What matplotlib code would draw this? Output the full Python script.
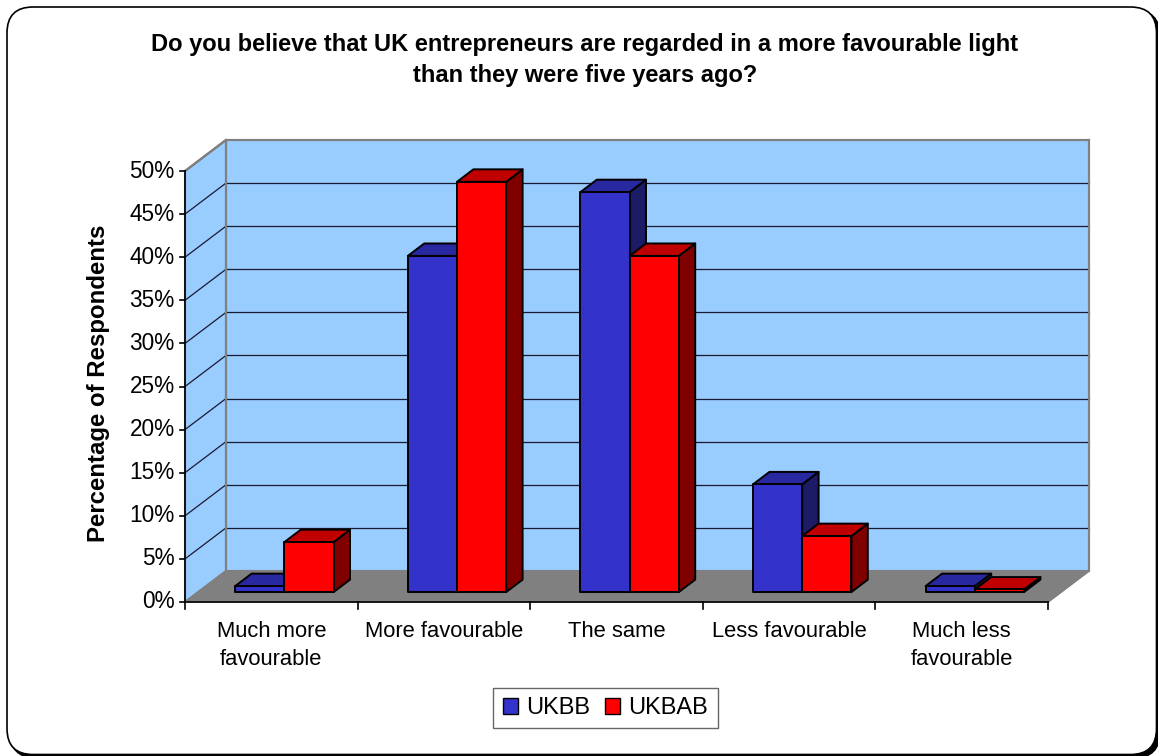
import matplotlib
matplotlib.use("Agg")
import matplotlib.pyplot as plt
from matplotlib.patches import Polygon, FancyBboxPatch, Patch
from matplotlib.transforms import IdentityTransform

plt.rcParams['font.family'] = ['Liberation Sans', 'DejaVu Sans']

# Data.
categories = ["Much more\nfavourable", "More favourable", "The same",
              "Less favourable", "Much less\nfavourable"]
ukbb = [0.7, 39.0, 46.4, 12.5, 0.7]
ukbab = [5.8, 47.6, 39.0, 6.5, 0.3]
yticks = [0, 5, 10, 15, 20, 25, 30, 35, 40, 45, 50]
title = ("Do you believe that UK entrepreneurs are regarded in a more favourable light\n"
         "than they were five years ago?")

# 3D look (oblique projection) in data units.
DX, DY = 0.2375, 3.6      # full depth offset
D0, D1 = 0.32, 0.72       # bar depth range
BW = 0.285                # bar width
YMAX = 50


def proj(x, y, d):
    return (x + d * DX, y + d * DY)


fig = plt.figure(figsize=(11.58, 7.56), dpi=100)
ax = fig.add_axes([0, 0, 1, 1])
ax.set_zorder(3)
ax.set_xlim(-0.5 - 185 / 172.6, -0.5 + (1158 - 185) / 172.6)
ax.set_ylim(-(756 - 602) / 8.62, 602 / 8.62)
ax.axis('off')

# Outer frame with shadow (shadow mostly falls outside the picture).
shadow = FancyBboxPatch((10, -2), 1150, 748, boxstyle="round,pad=0,rounding_size=26",
                        transform=IdentityTransform(), fc='black', ec='black', zorder=0)
frame = FancyBboxPatch((7, 1.5), 1149.5, 747.5, boxstyle="round,pad=0,rounding_size=26",
                       transform=IdentityTransform(), fc='white', ec='black', lw=1.2, zorder=1)
fig.patches.extend([shadow, frame])

n = len(categories)
xl, xr = -0.5, n - 0.5
wall = '#99CCFF'
edge = '#808080'

# Back wall, side wall, floor.
ax.add_patch(Polygon([proj(xl, 0, 1), proj(xr, 0, 1), proj(xr, YMAX, 1), proj(xl, YMAX, 1)],
                     closed=True, fc=wall, ec=edge, lw=1.5, zorder=2))
ax.add_patch(Polygon([proj(xl, 0, 0), proj(xl, 0, 1), proj(xl, YMAX, 1), proj(xl, YMAX, 0)],
                     closed=True, fc=wall, ec=edge, lw=1.5, zorder=2))
ax.add_patch(Polygon([proj(xl, 0, 0), proj(xr, 0, 0), proj(xr, 0, 1), proj(xl, 0, 1)],
                     closed=True, fc='#808080', ec='#808080', lw=1, zorder=2))

# Gridlines on the walls.
for v in yticks[1:-1]:
    p = [proj(xl, v, 1), proj(xr, v, 1)]
    ax.plot([p[0][0], p[1][0]], [p[0][1], p[1][1]], color='#1a1a2e', lw=0.9, zorder=3)
for v in yticks[1:]:
    p = [proj(xl, v, 0), proj(xl, v, 1)]
    ax.plot([p[0][0], p[1][0]], [p[0][1], p[1][1]], color='#1a1a2e', lw=0.9, zorder=3)
# Re-draw wall edges on top of the grid.
for a, b in [((xl, YMAX, 0), (xl, YMAX, 1)), ((xl, 0, 1), (xl, YMAX, 1)),
             ((xl, YMAX, 1), (xr, YMAX, 1)), ((xr, 0, 1), (xr, YMAX, 1))]:
    pa, pb = proj(*a), proj(*b)
    ax.plot([pa[0], pb[0]], [pa[1], pb[1]], color=edge, lw=1.5, zorder=3)
pa, pb = proj(xr, 0, 0), proj(xr, 0, 1)
ax.plot([pa[0], pb[0]], [pa[1], pb[1]], color=edge, lw=1.2, zorder=3)

# Bars.
series = [(ukbb, '#3333CC', '#2828A0', '#1B1B66'),
          (ukbab, '#FF0000', '#C00000', '#800000')]


def bar3d(x0, x1, v, front, top, side):
    faces = [
        ([proj(x1, 0, D0), proj(x1, 0, D1), proj(x1, v, D1), proj(x1, v, D0)], side),
        ([proj(x0, v, D0), proj(x1, v, D0), proj(x1, v, D1), proj(x0, v, D1)], top),
        ([proj(x0, 0, D0), proj(x1, 0, D0), proj(x1, v, D0), proj(x0, v, D0)], front),
    ]
    for pts, c in faces:
        ax.add_patch(Polygon(pts, closed=True, fc=c, ec='black', lw=1.4,
                             joinstyle='round', zorder=5))


for i in range(n):
    for k, (vals, front, top, side) in enumerate(series):
        x0 = i - BW + k * BW
        bar3d(x0, x0 + BW, vals[i], front, top, side)

# Axes lines and ticks.
ax.plot([xl, xl], [0, YMAX], color='black', lw=1.2, zorder=6)
ax.plot([xl, xr], [0, 0], color='black', lw=1.2, zorder=6)
for v in yticks:
    ax.plot([xl - 0.03, xl], [v, v], color='black', lw=1.2, zorder=6)
    ax.text(xl - 0.06, v, f"{v}%", ha='right', va='center', fontsize=16.3)
for i in range(n + 1):
    ax.plot([xl + i, xl + i], [0, -0.8], color='black', lw=1.2, zorder=6)
for i, lab in enumerate(categories):
    ax.text(i, -2.2, lab, ha='center', va='top', fontsize=15.8, linespacing=1.45)

ax.text(-1.0, 25.4, "Percentage of Respondents", rotation=90, ha='center', va='center',
        fontsize=17.3, fontweight='bold')
fig.text(585 / 1158, 1 - 33 / 756, title, ha='center', va='top', fontsize=17,
         fontweight='bold', linespacing=1.42)

handles = [Patch(fc='#3333CC', ec='black', lw=1), Patch(fc='#FF0000', ec='black', lw=1)]
leg = fig.legend(handles, ["UKBB", "UKBAB"], loc='center', ncol=2,
                 bbox_to_anchor=(605.5 / 1158, 1 - 708 / 756), fontsize=17,
                 frameon=True, fancybox=False, edgecolor='#404040', handlelength=0.65,
                 handleheight=0.65, handletextpad=0.35, columnspacing=0.6,
                 borderpad=0.4, borderaxespad=0)
leg.get_frame().set_linewidth(1.0)

fig.savefig("out.png", dpi=100)
